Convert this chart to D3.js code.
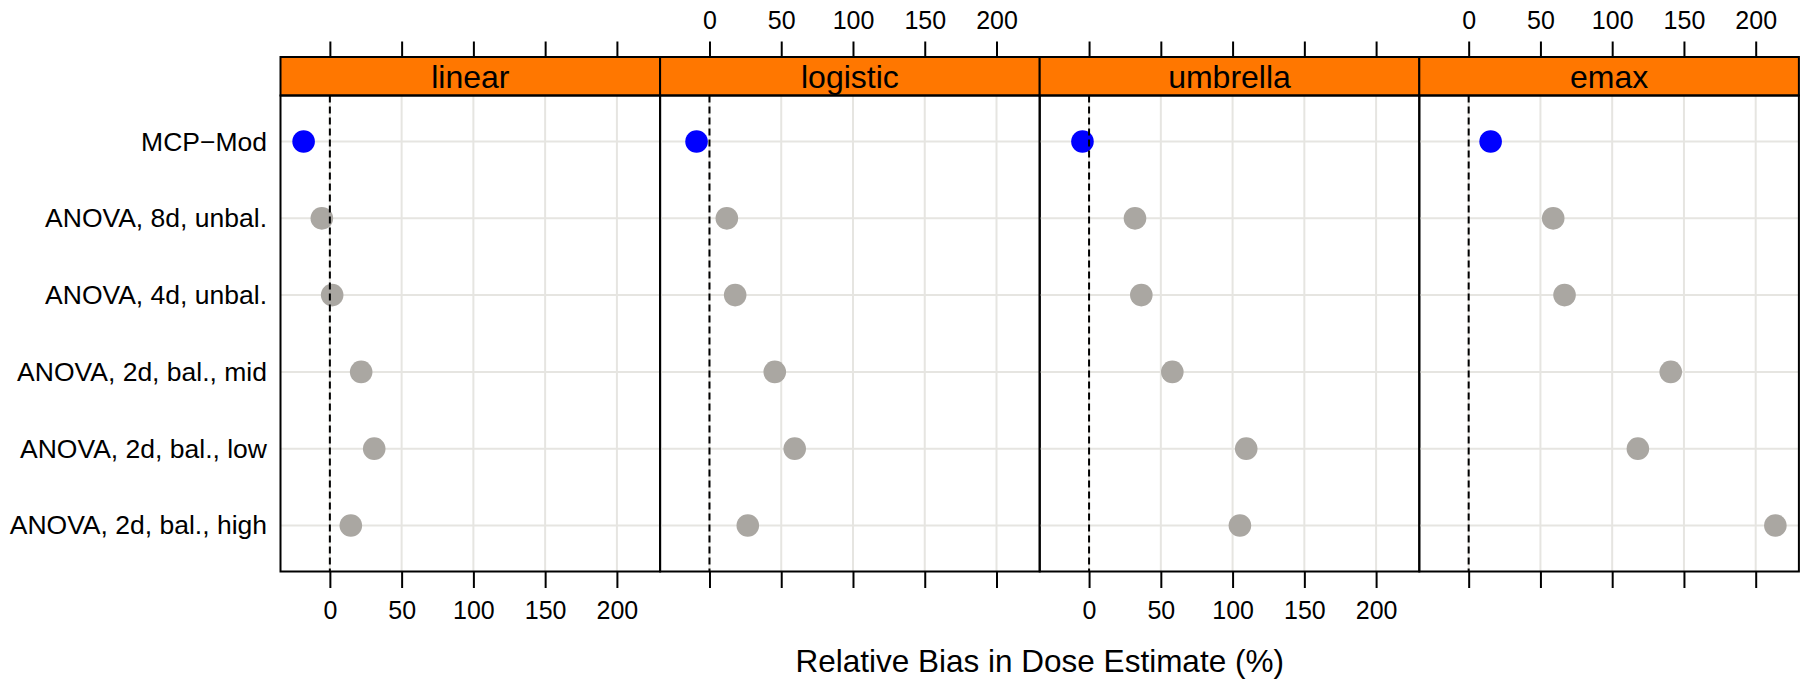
<!DOCTYPE html>
<html>
<head>
<meta charset="utf-8">
<script src="https://cdn.jsdelivr.net/npm/d3@7"></script>
<style>
  html, body { margin: 0; padding: 0; background: #ffffff; }
  svg { display: block; }
  text { font-family: "Liberation Sans", Arial, sans-serif; fill: #000; }
</style>
</head>
<body>
<svg id="chart" width="1806" height="681"></svg>
<script>
// ---- data ----
const methods = ["MCP\u2212Mod", "ANOVA, 8d, unbal.", "ANOVA, 4d, unbal.",
                 "ANOVA, 2d, bal., mid", "ANOVA, 2d, bal., low", "ANOVA, 2d, bal., high"];
const models = ["linear", "logistic", "umbrella", "emax"];
const biasLinear   = [-18.3, -5.6,  1.6,  21.8,  30.9,  14.6];
const biasLogistic = [ -9.0, 12.1, 17.9,  45.5,  59.4,  26.7];
const biasUmbrella = [ -4.6, 32.0, 36.4,  58.0, 109.5, 105.1];
const biasEmax     = [ 15.3, 58.9, 66.8, 140.8, 117.9, 213.7];
const xTicks = [0, 50, 100, 150, 200];
const xTitle = "Relative Bias in Dose Estimate (%)";

const seriesByModel = [biasLinear, biasLogistic, biasUmbrella, biasEmax];

// ---- layout ----
const panelX0 = 280.5, panelW = 379.6;
const stripTop = 57, stripBot = 95.5, panelBot = 571.5;
const svg = d3.select("#chart");

const x = d3.scaleLinear().domain([-34.4, 230.1]).range([0, panelW]);
const y = d3.scaleLinear().domain([0.4, 6.6]).range([stripBot, panelBot]);

const gridCol = "#e6e5e1";
const greyPt = "#aaa7a2";
const bluePt = "#0000ff";

models.forEach((m, pi) => {
  const g = svg.append("g").attr("transform", `translate(${panelX0 + pi * panelW},0)`);
  const vals = seriesByModel[pi];

  g.selectAll("line.vg").data(xTicks).enter().append("line")
    .attr("x1", d => x(d)).attr("x2", d => x(d))
    .attr("y1", stripBot).attr("y2", panelBot)
    .attr("stroke", gridCol).attr("stroke-width", 2);
  g.selectAll("line.hg").data(methods).enter().append("line")
    .attr("x1", 0).attr("x2", panelW)
    .attr("y1", (d, i) => y(i + 1)).attr("y2", (d, i) => y(i + 1))
    .attr("stroke", gridCol).attr("stroke-width", 2);

  g.selectAll("circle").data(vals).enter().append("circle")
    .attr("cx", d => x(d)).attr("cy", (d, i) => y(i + 1))
    .attr("r", 11.3)
    .attr("fill", (d, i) => i === 0 ? bluePt : greyPt);

  g.append("line")
    .attr("x1", x(0)).attr("x2", x(0))
    .attr("y1", stripBot).attr("y2", panelBot)
    .attr("stroke", "#000").attr("stroke-width", 2)
    .attr("stroke-dasharray", "7,4");

  g.append("rect").attr("x", 0).attr("y", stripTop).attr("width", panelW).attr("height", stripBot - stripTop)
    .attr("fill", "#ff7700").attr("stroke", "#000").attr("stroke-width", 2);
  g.append("text").attr("x", panelW / 2).attr("y", 87.5)
    .attr("text-anchor", "middle").attr("font-size", 32).text(m);

  g.append("rect").attr("x", 0).attr("y", stripBot).attr("width", panelW).attr("height", panelBot - stripBot)
    .attr("fill", "none").attr("stroke", "#000").attr("stroke-width", 2);

  const topAxis = d3.axisTop(x).tickValues(xTicks).tickSize(15.5).tickPadding(13)
    .tickFormat(pi % 2 === 1 ? d3.format("d") : () => "");
  const ta = g.append("g").attr("transform", `translate(0,${stripTop})`).call(topAxis);
  const botAxis = d3.axisBottom(x).tickValues(xTicks).tickSize(16.5).tickPadding(13)
    .tickFormat(pi % 2 === 0 ? d3.format("d") : () => "");
  const ba = g.append("g").attr("transform", `translate(0,${panelBot})`).call(botAxis);
  [ta, ba].forEach(a => {
    a.select(".domain").remove();
    a.selectAll(".tick line").attr("stroke", "#000").attr("stroke-width", 2);
    a.selectAll(".tick text").attr("font-size", 25).attr("fill", "#000")
      .attr("font-family", "'Liberation Sans', Arial, sans-serif");
  });
});

svg.append("g").selectAll("text").data(methods).enter().append("text")
  .attr("x", 267).attr("y", (d, i) => y(i + 1) + 9)
  .attr("text-anchor", "end").attr("font-size", 26.5).text(d => d);

svg.append("text").attr("x", panelX0 + 2 * panelW).attr("y", 672)
  .attr("text-anchor", "middle").attr("font-size", 31.5).text(xTitle);
</script>
</body>
</html>
